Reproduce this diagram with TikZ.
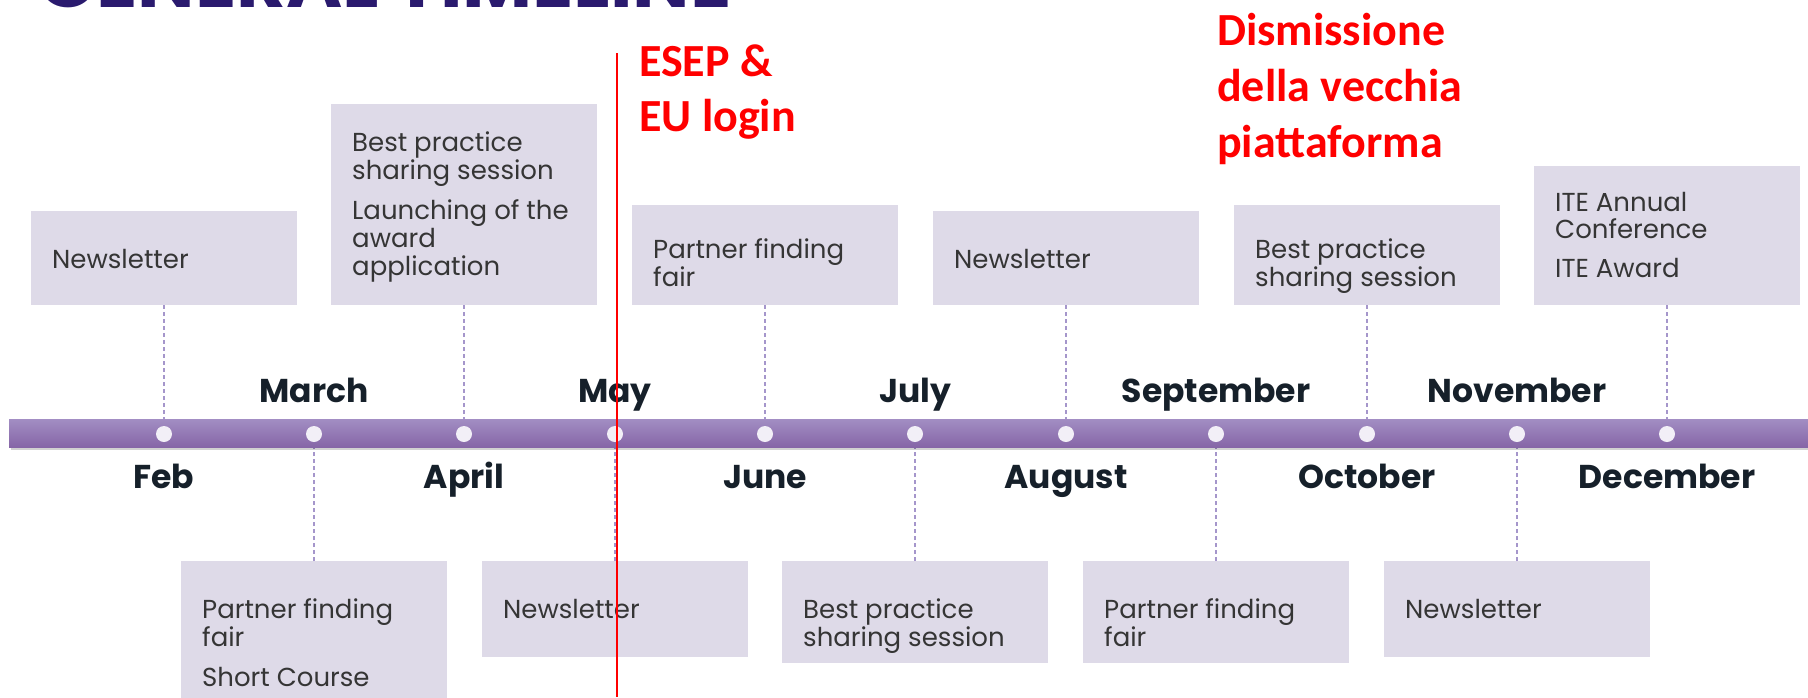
\documentclass[tikz,border=0pt]{standalone}
\usepackage{fontspec}
\setmainfont{Poppins}
\newfontfamily\popfont{Poppins}
\newfontfamily\carfont{Carlito}
\definecolor{boxfill}{HTML}{DEDAE8}
\definecolor{bartop}{HTML}{A28DC3}
\definecolor{barbot}{HTML}{8565A6}
\definecolor{connc}{HTML}{A596CB}
\definecolor{titlec}{HTML}{2A1A6E}
\definecolor{txtc}{HTML}{353535}
\definecolor{monc}{HTML}{16202A}
\definecolor{dotc}{HTML}{F2EFF7}
\newcommand\mylines[2][28pt]{\vtop{\baselineskip=#1\lineskip=0pt\lineskiplimit=-100pt\halign{##\hfil\cr#2\crcr}}}
\newcommand\gapline{\noalign{\vskip 12pt}}
\begin{document}
\begin{tikzpicture}[x=1pt,y=-1pt,
  box/.style={fill=boxfill, draw=none, minimum width=266pt, inner sep=0pt, outer sep=0pt, anchor=north west},
  txt/.style={anchor=base west, inner sep=0pt, text=txtc, font=\popfont\fontsize{26}{28}\selectfont},
  mon/.style={anchor=base, inner sep=0pt, text=monc, font=\popfont\bfseries\fontsize{33}{33}\selectfont},
  conn/.style={draw=connc, line width=1.3pt, dash pattern=on 4pt off 3pt},
  dotn/.style={circle, fill=dotc, draw=none, minimum size=16pt, inner sep=0pt},
  redtxt/.style={anchor=base west, inner sep=0pt, text=red, font=\carfont\bfseries\fontsize{46}{55}\selectfont}]
\useasboundingbox (0,0) rectangle (1808,697);
\begin{scope}
\clip (0,0) rectangle (1808,697);
% title (cut at top, as in the reference)
\node[anchor=base west, inner sep=0pt, text=titlec, font=\popfont\bfseries\fontsize{72}{72}\selectfont] (title) at (38,7) {\scalebox{1.06}[1]{GENERAL TIMELINE}};

% dot positions
\coordinate (pFeb) at (164,434);
\coordinate (pMar) at (314,434);
\coordinate (pApr) at (464,434);
\coordinate (pMay) at (615,434);
\coordinate (pJun) at (765,434);
\coordinate (pJul) at (915,434);
\coordinate (pAug) at (1066,434);
\coordinate (pSep) at (1216,434);
\coordinate (pOct) at (1367,434);
\coordinate (pNov) at (1517,434);
\coordinate (pDec) at (1667,434);

% top boxes
\node[box, minimum height=94pt] (bFeb) at (31,211) {};
\node[box, minimum height=201pt] (bApr) at (331,104) {};
\node[box, minimum height=100pt] (bJun) at (632,205) {};
\node[box, minimum height=94pt] (bAug) at (933,211) {};
\node[box, minimum height=100pt] (bOct) at (1234,205) {};
\node[box, minimum height=139pt] (bDec) at (1534,166) {};
% bottom boxes
\node[box, minimum height=140pt] (bMar) at (181,561) {};
\node[box, minimum height=96pt] (bMay) at (482,561) {};
\node[box, minimum height=102pt] (bJul) at (782,561) {};
\node[box, minimum height=102pt] (bSep) at (1083,561) {};
\node[box, minimum height=96pt] (bNov) at (1384,561) {};

% box texts
\node[txt] (tFeb) at (52,268) {\mylines{Newsletter}};
\node[txt] (tApr) at (352,151) {\mylines{Best practice\cr sharing session\cr\gapline Launching of the\cr award\cr application}};
\node[txt] (tJun) at (653,258) {\mylines{Partner finding\cr fair}};
\node[txt] (tAug) at (954,268) {\mylines{Newsletter}};
\node[txt] (tOct) at (1255,258) {\mylines{Best practice\cr sharing session}};
\node[txt] (tDec) at (1555,211) {\mylines[27pt]{ITE Annual\cr Conference\cr\gapline ITE Award}};
\node[txt] (tMar) at (202,618) {\mylines{Partner finding\cr fair\cr\gapline Short Course}};
\node[txt] (tMay) at (503,618) {\mylines{Newsletter}};
\node[txt] (tJul) at (803,618) {\mylines{Best practice\cr sharing session}};
\node[txt] (tSep) at (1104,618) {\mylines{Partner finding\cr fair}};
\node[txt] (tNov) at (1405,618) {\mylines{Newsletter}};

% connectors
\draw[conn] (bFeb.south) -- (pFeb);
\draw[conn] (bApr.south) -- (pApr);
\draw[conn] (bJun.south) -- (pJun);
\draw[conn] (bAug.south) -- (pAug);
\draw[conn] (bOct.south) -- (pOct);
\draw[conn] (bDec.south) -- (pDec);
\draw[conn] (bMar.north) -- (pMar);
\draw[conn] (bMay.north) -- (pMay);
\draw[conn] (bJul.north) -- (pJul);
\draw[conn] (bSep.north) -- (pSep);
\draw[conn] (bNov.north) -- (pNov);

% bar with shadow
\fill[black, opacity=0.18] (11,447) rectangle (1808,450);
\node[minimum width=1799pt, minimum height=28pt, inner sep=0pt, top color=bartop, bottom color=barbot, draw=none] (bar) at (908.5,433.5) {};

% dots
\foreach \m in {Feb,Mar,Apr,May,Jun,Jul,Aug,Sep,Oct,Nov,Dec}{
  \node[dotn] (d\m) at (p\m) {};
}

% month labels
\node[mon] (lMar) at (314,402) {March};
\node[mon] (lMay) at (615,402) {May};
\node[mon] (lJul) at (915,402) {July};
\node[mon] (lSep) at (1216,402) {September};
\node[mon] (lNov) at (1517,402) {November};
\node[mon] (lFeb) at (164,488) {Feb};
\node[mon] (lApr) at (464,488) {April};
\node[mon] (lJun) at (765,488) {June};
\node[mon] (lAug) at (1066,488) {August};
\node[mon] (lOct) at (1367,488) {October};
\node[mon] (lDec) at (1667,488) {December};

% red annotations
\coordinate (rtop) at (617,53);
\coordinate (rbot) at (617,697);
\draw[red, line width=2pt] (rtop) -- (rbot);
\node[redtxt] (esep) at (639,76) {\mylines[55pt]{ESEP \&\cr EU login}};
\node[redtxt] (dism) at (1217,45) {\mylines[56pt]{Dismissione\cr della vecchia\cr piattaforma}};
\end{scope}
\end{tikzpicture}
\end{document}
